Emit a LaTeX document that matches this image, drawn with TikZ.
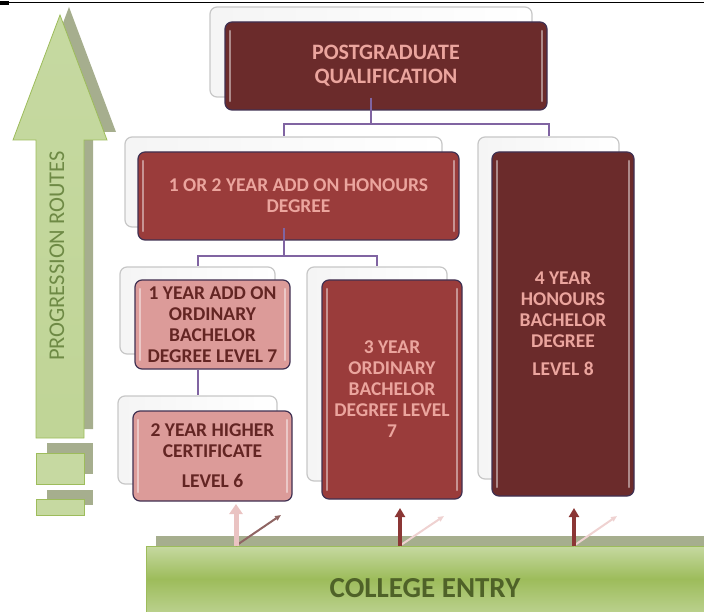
\documentclass[tikz,border=0pt]{standalone}
\usepackage{fontspec}
\setmainfont{Carlito}
\usetikzlibrary{positioning, arrows.meta}
\definecolor{maroondark}{HTML}{6B2B2B}
\definecolor{maroonmid}{HTML}{9A3C3B}
\definecolor{pinklight}{HTML}{DC9B99}
\definecolor{pinktext}{HTML}{EBA59E}
\definecolor{darktext}{HTML}{632523}
\definecolor{boxedge}{HTML}{403152}
\definecolor{linkpurple}{HTML}{8064A2}
\definecolor{greenlight}{HTML}{C6D9A1}
\definecolor{greenmid}{HTML}{9DBC5B}
\definecolor{greenshadow}{HTML}{A6AE8E}
\definecolor{greentext}{HTML}{4F6228}
\definecolor{routetext}{HTML}{6E8A45}

\begin{document}
\begin{tikzpicture}[x=1pt, y=-1pt,
    back/.style={draw=black!22, left color=black!4, right color=white, line width=1.2pt,
        rounded corners=7pt, inner sep=0pt},
    gloss/.style={path picture={
        \draw[white, opacity=0.45, line width=2.5pt, line cap=round]
            ([xshift=5pt, yshift=-9pt]path picture bounding box.north west) --
            ([xshift=5pt, yshift=9pt]path picture bounding box.south west);
        \draw[white, opacity=0.45, line width=2.5pt, line cap=round]
            ([xshift=-5pt, yshift=-9pt]path picture bounding box.north east) --
            ([xshift=-5pt, yshift=9pt]path picture bounding box.south east);}},
    box/.style={draw=boxedge, line width=1.2pt, rounded corners=7pt, inner sep=0pt,
        align=center, font=\bfseries\fontsize{19.5}{21}\selectfont, text=pinktext, gloss},
    dark/.style={box, fill=maroondark},
    mid/.style={box, fill=maroonmid},
    light/.style={box, fill=pinklight, text=darktext},
    link/.style={draw=linkpurple, line width=2pt},
    entryarrow/.style={line width=5pt, -{Triangle[width=13pt, length=10pt]}},
    ray/.style={line width=2pt, -{Triangle[width=5pt, length=6pt]}}]

\useasboundingbox (0,0) rectangle (704,612);
\draw[line width=1pt] (0,3) -- (704,3);
\fill (0,1.5) rectangle (9,5);

% Progression arrow with its shadow
\fill[greenshadow] (69,7) -- (116,132) -- (93,132) -- (93,429) -- (45,429)
    -- (45,132) -- (22,132) -- cycle;
\shade[top color=greenlight, middle color=greenmid!85!greenlight,
    bottom color=greenlight!85!greenmid, draw=greenmid, line width=0.8pt]
    (60,15) -- (107,140) -- (84,140) -- (84,438) -- (36,438) -- (36,140)
    -- (13,140) -- cycle;
\fill[greenshadow] (47,443) rectangle (93,474);
\fill[greenshadow] (47,490) rectangle (93,505);
\draw[greenmid, fill=greenlight, line width=0.8pt] (36,453) rectangle (84,484);
\draw[greenmid, fill=greenlight, line width=0.8pt] (36,499) rectangle (84,515);
\node[rotate=90, text=routetext, font=\fontsize{22.5}{26}\selectfont] (routes)
    at (57,256) {PROGRESSION ROUTES};

% College entry bar
\fill[greenshadow] (156,536) rectangle (704,600);
\node[draw=greenmid, line width=0.8pt, minimum width=558pt, minimum height=66pt,
    inner sep=0pt, top color=greenlight, bottom color=greenlight!70!greenmid,
    middle color=greenmid] (entry) at (425,579) {};
\node[text=greentext, font=\bfseries\fontsize{29}{33}\selectfont] (entrytext)
    at ([yshift=-9pt]entry.center) {COLLEGE ENTRY};

% Top level
\node[back, minimum width=322pt, minimum height=90pt] (pgb) at (371,52) {};
\node[dark, minimum width=322pt, minimum height=88pt,
    font=\bfseries\fontsize{22}{24}\selectfont] (pg) at (386,66)
    {POSTGRADUATE\\QUALIFICATION};

% Second level
\node[back, minimum width=317pt, minimum height=90pt] (honb) at (283.5,182) {};
\node[mid, minimum width=321pt, minimum height=88pt] (hon) at (298.5,196)
    {1 OR 2 YEAR ADD ON HONOURS\\DEGREE};
\node[back, minimum width=141pt, minimum height=342pt] (fourb) at (548.5,308) {};
\node[dark, minimum width=142pt, minimum height=344pt] (four) at (563,324)
    {4 YEAR\\HONOURS\\BACHELOR\\DEGREE\\[7pt]LEVEL 8};

% Third level
\node[back, minimum width=155pt, minimum height=87pt] (addb) at (197.5,310.5) {};
\node[light, minimum width=155pt, minimum height=89pt] (add) at (212.5,324.5)
    {1 YEAR ADD ON\\ORDINARY\\BACHELOR\\DEGREE LEVEL 7};
\node[back, minimum width=140pt, minimum height=214pt] (ordb) at (377,374) {};
\node[mid, minimum width=140pt, minimum height=219pt] (ord) at (392,389.5)
    {3 YEAR\\ORDINARY\\BACHELOR\\DEGREE LEVEL\\7};

% Fourth level
\node[back, minimum width=159pt, minimum height=88pt] (certb) at (197.5,440) {};
\node[light, minimum width=159pt, minimum height=90pt] (cert) at (212.5,456)
    {2 YEAR HIGHER\\CERTIFICATE\\[9pt]LEVEL 6};

% Links
\draw[link] (pgb.south) -- ([yshift=-26pt]pgb.south) -| (honb.north);
\draw[link] ([yshift=-26pt]pgb.south) -| (fourb.north);
\draw[link] (honb.south) -- ([yshift=-28pt]honb.south) -| (addb.north);
\draw[link] ([yshift=-28pt]honb.south) -| (ordb.north);
\draw[link] (addb.south |- add.south) -- (certb.north);

% Entry arrows
\coordinate (t1) at (236,504);
\coordinate (t2) at (400,508);
\coordinate (t3) at (574,508);
\coordinate (r1) at (281,515);
\coordinate (r2) at (444,516);
\coordinate (r3) at (617,516);
\draw[ray, color=black!35!pinklight] (entry.north -| t1) -- (r1);
\draw[ray, color=pinklight!45] (entry.north -| t2) -- (r2);
\draw[ray, color=pinklight!45] (entry.north -| t3) -- (r3);
\draw[entryarrow, color=pinklight!60] (entry.north -| t1) -- (t1);
\draw[entryarrow, color=maroonmid!90!black, line width=4pt,
    -{Triangle[width=10pt, length=9pt]}] (entry.north -| t2) -- (t2);
\draw[entryarrow, color=maroonmid!90!black, line width=4pt,
    -{Triangle[width=10pt, length=9pt]}] (entry.north -| t3) -- (t3);

\end{tikzpicture}
\end{document}
